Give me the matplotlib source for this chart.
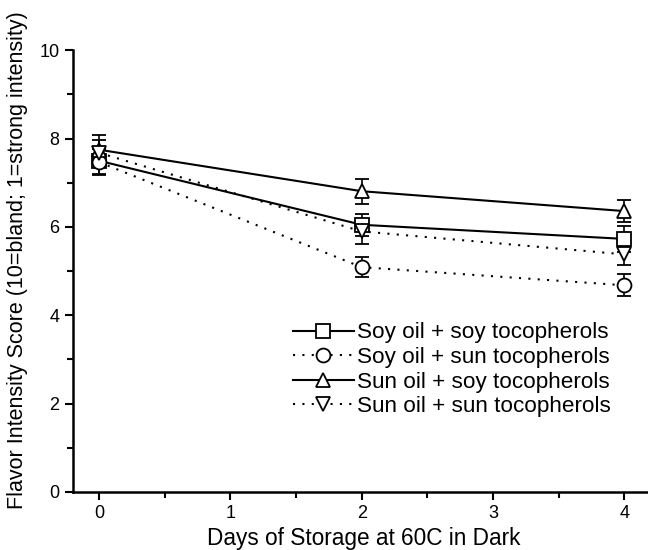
import matplotlib
matplotlib.use("Agg")
import matplotlib.pyplot as plt
from matplotlib.ticker import MultipleLocator

plt.rcParams['font.family'] = ['Liberation Sans', 'DejaVu Sans']

days = [0, 2, 4]

soy_soy = [7.5, 6.05, 5.73]
soy_soy_err = [0.3, 0.25, 0.3]
soy_sun = [7.47, 5.09, 4.68]
soy_sun_err = [0.3, 0.23, 0.25]
sun_soy = [7.75, 6.81, 6.36]
sun_soy_err = [0.33, 0.28, 0.25]
sun_sun = [7.68, 5.9, 5.38]
sun_sun_err = [0.3, 0.28, 0.25]

labels = ["Soy oil + soy tocopherols", "Soy oil + sun tocopherols",
          "Sun oil + soy tocopherols", "Sun oil + sun tocopherols"]

fig = plt.figure(figsize=(6.48, 5.5), dpi=100)
ax = fig.add_axes([0.1122, 0.1055, 0.892, 0.803])

series = [
    (soy_soy, soy_soy_err, 's', '-'),
    (soy_sun, soy_sun_err, 'o', (0, (1, 3.5))),
    (sun_soy, sun_soy_err, '^', '-'),
    (sun_sun, sun_sun_err, 'v', (0, (1, 3.5))),
]
for (y, e, m, ls), lab in zip(series, labels):
    ax.errorbar(days, y, yerr=e, color='black', linestyle=ls, linewidth=1.5,
                marker=m, markersize=10, markerfacecolor='white',
                markeredgecolor='black', markeredgewidth=1.3,
                capsize=5, elinewidth=1.2, capthick=1.2, label=lab)

ax.set_xlim(-0.2, 4.2)
ax.set_ylim(0, 10)
ax.xaxis.set_major_locator(MultipleLocator(1))
ax.xaxis.set_minor_locator(MultipleLocator(0.5))
ax.yaxis.set_major_locator(MultipleLocator(2))
ax.yaxis.set_minor_locator(MultipleLocator(1))
ax.spines['top'].set_visible(False)
ax.spines['right'].set_visible(False)
ax.spines['left'].set_linewidth(1.8)
ax.spines['bottom'].set_linewidth(1.8)
ax.tick_params(which='major', direction='out', length=6, width=1.5, labelsize=13)
ax.tick_params(which='minor', direction='out', length=4, width=1.5)

ax.set_xlabel("Days of Storage at 60C in Dark", fontsize=16.3)
ax.xaxis.set_label_coords(0.503, -0.079)
ax.set_ylabel("Flavor Intensity Score (10=bland; 1=strong intensity)", fontsize=15.5)
ax.yaxis.set_label_coords(-0.077, 0.526)

handles, labs = ax.get_legend_handles_labels()
handles = [h[0] for h in handles]
ax.legend(handles, labs, loc='upper left', bbox_to_anchor=(0.381, 0.384),
          frameon=False, fontsize=16.2, handlelength=2.7, handletextpad=0.15,
          labelspacing=0.16, borderpad=0, borderaxespad=0, numpoints=1)

fig.savefig("out.png", dpi=100)
